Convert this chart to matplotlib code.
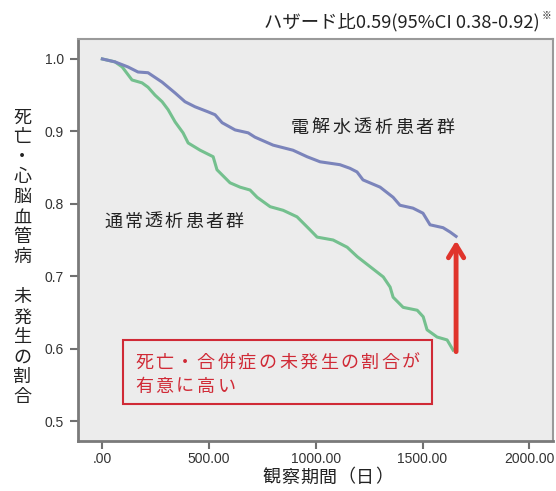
import matplotlib
matplotlib.use('Agg')
import matplotlib.pyplot as plt
from matplotlib.patches import Rectangle

plt.rcParams['font.family'] = ['Noto Sans CJK JP', 'DejaVu Sans']

# Kaplan-Meier curves (days, proportion event-free)
ew_days = [0, 59, 120, 167, 214, 280, 341, 387, 434, 495, 528, 561, 622, 683, 715,
           800, 893, 959, 1020, 1113, 1160, 1193, 1221, 1301, 1362, 1394, 1455,
           1502, 1535, 1596, 1629, 1657]
ew_surv = [1.0, 0.996, 0.989, 0.982, 0.981, 0.968, 0.953, 0.941, 0.934, 0.927, 0.923,
           0.912, 0.902, 0.898, 0.892, 0.881, 0.874, 0.865, 0.858, 0.854, 0.849,
           0.844, 0.833, 0.823, 0.809, 0.798, 0.794, 0.787, 0.771, 0.767, 0.761, 0.755]

std_days = [0, 59, 93, 139, 186, 214, 247, 280, 308, 341, 378, 402, 458, 519, 537,
            598, 645, 692, 725, 786, 847, 912, 973, 1006, 1081, 1147, 1194, 1255,
            1316, 1348, 1362, 1409, 1475, 1503, 1521, 1568, 1615, 1643]
std_surv = [1.0, 0.996, 0.989, 0.971, 0.967, 0.961, 0.950, 0.941, 0.930, 0.913, 0.898,
            0.884, 0.874, 0.865, 0.847, 0.829, 0.823, 0.819, 0.809, 0.796, 0.791,
            0.782, 0.764, 0.754, 0.750, 0.740, 0.727, 0.713, 0.699, 0.685, 0.671,
            0.657, 0.653, 0.644, 0.626, 0.616, 0.612, 0.598]

xticks = [0, 500, 1000, 1500, 2000]
xticklabels = ['.00', '500.00', '1000.00', '1500.00', '2000.00']
yticks = [0.5, 0.6, 0.7, 0.8, 0.9, 1.0]

ew_label = '電解水透析患者群'
std_label = '通常透析患者群'
note_lines = ['死亡・合併症の未発生の割合が', '有意に高い']
title = 'ハザード比0.59(95%CI 0.38-0.92)'
ylabel = '死亡・心脳血管病 未発生の割合'
xlabel = '観察期間（日）'


def spaced_text(ax, x, y, s, pitch, xycoords, vertical=False, **kw):
    # japanese print style: one glyph per fixed pitch (in points)
    for i, ch in enumerate(s):
        off = (0, -i*pitch) if vertical else (i*pitch, 0)
        ax.annotate(ch, xy=(x, y), xycoords=xycoords, xytext=off,
                    textcoords='offset points', ha='center', va='center', **kw)


fig = plt.figure(figsize=(5.56, 4.91), dpi=100)
ax = fig.add_axes([0.1403, 0.1018, 0.8543, 0.8188])
ax.set_facecolor('#ececec')

ax.plot(std_days, std_surv, color='#74c08e', lw=2.2)
ax.plot(ew_days, ew_surv, color='#7b84bb', lw=2.2)

ax.set_xlim(-114, 2111)
ax.set_ylim(0.4724, 1.0276)
ax.set_xticks(xticks)
ax.set_xticklabels(xticklabels)
ax.set_yticks(yticks)
ax.set_yticklabels(['%.1f' % v for v in yticks])
for lab in ax.get_xticklabels() + ax.get_yticklabels():
    lab.set_family(['Liberation Sans'])
    lab.set_fontsize(10)
    lab.set_color('#333333')
ax.tick_params(direction='out', length=6, width=1.5, color='#707070')
ax.tick_params(axis='x', pad=2)
ax.tick_params(axis='y', pad=4)

for side in ['left', 'bottom']:
    ax.spines[side].set_color('#7a7a7a')
    ax.spines[side].set_linewidth(2)
for side in ['top', 'right']:
    ax.spines[side].set_color('#9a9a9a')
    ax.spines[side].set_linewidth(1.5)

# group labels
spaced_text(ax, 0.467, 0.779, ew_label, 15, 'axes fraction', fontsize=13, color='#222222')
spaced_text(ax, 0.074, 0.545, std_label, 14.6, 'axes fraction', fontsize=13, color='#222222')

# arrow between curve ends
ax.annotate('', xy=(ew_days[-1], ew_surv[-1] - 0.002), xytext=(ew_days[-1], std_surv[-1] - 0.006),
            arrowprops=dict(arrowstyle='->,head_length=0.9,head_width=0.55',
                            color='#e0342c', lw=3.5))

# red note box
ax.add_patch(Rectangle((0.0947, 0.092), 0.650, 0.159, transform=ax.transAxes,
                       fill=False, edgecolor='#d02a36', lw=1.5))
spaced_text(ax, 0.139, 0.195, note_lines[0], 14.8, 'axes fraction', fontsize=13, color='#d02a36')
spaced_text(ax, 0.139, 0.135, note_lines[1], 14.8, 'axes fraction', fontsize=13, color='#d02a36')

# title with hazard ratio
fig.text(0.971, 0.955, title, fontsize=13.2, color='#222222', ha='right', va='center')
fig.text(0.975, 0.968, '※', fontsize=7, color='#222222', ha='left', va='center')

spaced_text(fig.axes[0], 0.488, 0.027, xlabel, 13.5, 'figure fraction', fontsize=13, color='#222222')
spaced_text(fig.axes[0], 0.040, 0.761, ylabel, 14.4, 'figure fraction', vertical=True,
            fontsize=13, color='#222222')

fig.savefig('out.png', dpi=100)
